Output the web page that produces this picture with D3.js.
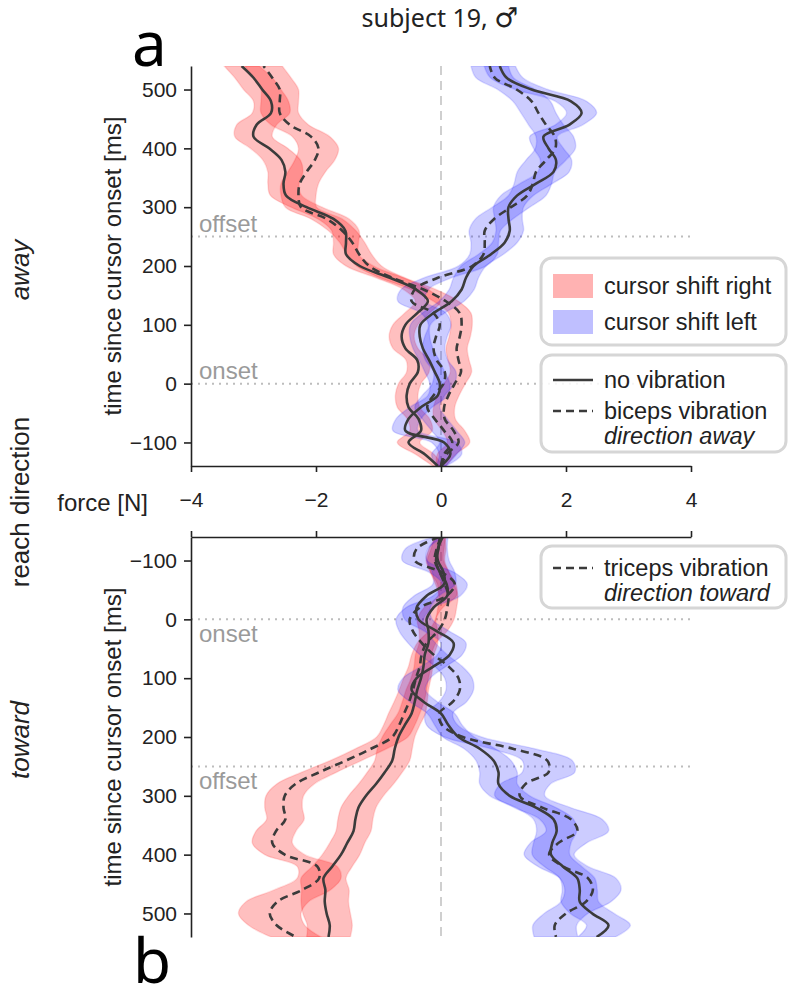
<!DOCTYPE html>
<html>
<head>
<meta charset="utf-8">
<script src="https://cdnjs.cloudflare.com/ajax/libs/d3/7.8.5/d3.min.js"></script>
<style>
  body { margin: 0; background: #fff; }
  svg text { font-family: 'Liberation Sans', Arial, sans-serif; fill: #222; }
</style>
</head>
<body>
<div class="chart"></div>
<script>
// time grid (ms since cursor onset)
const times = [-140,-120,-100,-80,-60,-40,-20,0,20,40,60,80,100,120,140,160,180,200,220,240,260,280,300,320,340,360,380,400,420,440,460,480,500,520,540]
const xTicks = [-4, -2, 0, 2, 4]
const yTicks = [-100, 0, 100, 200, 300, 400, 500]
const eventNames = ['onset', 'offset']
const eventTimes = [0, 250]

// reach direction: away  (force in N)
const awayRightNoVib = [-0.05,-0.26,-0.52,-0.32,-0.36,-0.52,-0.55,-0.50,-0.37,-0.38,-0.57,-0.63,-0.57,-0.38,-0.21,-0.40,-0.82,-1.30,-1.52,-1.52,-1.53,-1.72,-2.15,-2.48,-2.52,-2.49,-2.55,-2.75,-3.00,-2.95,-2.72,-2.72,-2.86,-3.00,-3.19]
const awayRightNoVibSd = [0.08,0.15,0.18,0.18,0.18,0.18,0.18,0.18,0.18,0.18,0.2,0.2,0.2,0.2,0.2,0.2,0.22,0.22,0.2,0.2,0.22,0.25,0.25,0.25,0.25,0.28,0.3,0.3,0.3,0.32,0.3,0.28,0.3,0.3,0.28]
const awayRightVib = [0.0,0.09,0.28,0.20,0.06,0.05,0.12,0.22,0.32,0.28,0.25,0.30,0.33,0.30,0.08,-0.28,-0.78,-1.15,-1.31,-1.42,-1.58,-1.83,-2.24,-2.28,-2.26,-2.15,-2.02,-1.96,-2.08,-2.42,-2.58,-2.58,-2.58,-2.70,-2.84]
const awayRightVibSd = [0.08,0.15,0.18,0.18,0.17,0.17,0.17,0.17,0.17,0.17,0.17,0.17,0.17,0.18,0.2,0.2,0.2,0.2,0.2,0.2,0.22,0.25,0.25,0.28,0.3,0.3,0.32,0.32,0.3,0.3,0.3,0.3,0.3,0.3,0.3]
const awayLeftNoVib = [0.0,0.15,0.05,-0.57,-0.52,-0.32,-0.05,-0.02,-0.10,-0.19,-0.29,-0.34,-0.33,-0.12,0.17,0.33,0.40,0.52,0.80,1.02,1.10,1.08,1.08,1.22,1.52,1.80,1.84,1.72,1.64,2.05,2.25,2.08,1.45,1.05,0.94]
const awayLeftNoVibSd = [0.08,0.18,0.2,0.2,0.2,0.18,0.16,0.16,0.16,0.16,0.16,0.16,0.16,0.18,0.2,0.2,0.2,0.2,0.2,0.2,0.22,0.22,0.24,0.26,0.26,0.25,0.25,0.24,0.22,0.22,0.24,0.25,0.26,0.26,0.25]
const awayLeftVib = [0.0,0.05,0.18,0.05,-0.10,-0.22,-0.12,0.04,0.06,-0.07,-0.12,-0.08,-0.02,-0.12,-0.47,-0.42,-0.05,0.50,0.68,0.70,0.70,0.85,1.12,1.38,1.47,1.52,1.68,1.83,1.82,1.68,1.56,1.45,1.21,0.86,0.78]
const awayLeftVibSd = [0.08,0.2,0.2,0.2,0.2,0.2,0.18,0.18,0.18,0.18,0.18,0.18,0.18,0.2,0.22,0.22,0.22,0.22,0.22,0.22,0.25,0.3,0.3,0.3,0.3,0.3,0.32,0.32,0.3,0.28,0.28,0.3,0.3,0.3,0.3]

// reach direction: toward
const towardRightNoVib = [-0.02,-0.04,-0.08,-0.02,0.09,0.10,-0.12,-0.23,-0.20,-0.20,-0.26,-0.28,-0.32,-0.38,-0.42,-0.47,-0.58,-0.68,-0.74,-0.78,-0.90,-1.04,-1.20,-1.32,-1.37,-1.40,-1.50,-1.60,-1.74,-1.88,-1.85,-1.86,-1.83,-1.78,-1.80]
const towardRightNoVibSd = [0.08,0.12,0.14,0.15,0.15,0.15,0.15,0.15,0.15,0.15,0.15,0.15,0.16,0.18,0.2,0.22,0.24,0.26,0.28,0.28,0.28,0.28,0.28,0.28,0.28,0.28,0.28,0.3,0.32,0.36,0.38,0.38,0.38,0.36,0.35]
const towardRightVib = [0.0,-0.07,-0.10,-0.02,0.06,0.12,0.10,0.06,-0.05,-0.23,-0.31,-0.34,-0.40,-0.45,-0.51,-0.59,-0.67,-0.78,-1.12,-1.52,-1.95,-2.33,-2.50,-2.52,-2.49,-2.64,-2.70,-2.50,-1.98,-1.95,-2.22,-2.62,-2.74,-2.63,-2.32]
const towardRightVibSd = [0.08,0.12,0.14,0.15,0.15,0.15,0.15,0.15,0.15,0.15,0.16,0.18,0.2,0.22,0.24,0.25,0.25,0.25,0.25,0.25,0.28,0.3,0.3,0.3,0.3,0.32,0.32,0.32,0.32,0.35,0.45,0.5,0.5,0.45,0.4]
const towardLeftNoVib = [0.03,-0.05,-0.05,0.04,0.05,-0.23,-0.39,-0.36,-0.07,0.20,0.14,-0.12,-0.39,-0.47,-0.28,0.0,0.12,0.28,0.62,0.84,0.92,0.92,1.10,1.52,1.80,1.85,1.78,1.76,1.95,2.18,2.22,2.22,2.42,2.68,2.49]
const towardLeftNoVibSd = [0.08,0.15,0.18,0.18,0.18,0.2,0.22,0.22,0.2,0.2,0.2,0.2,0.22,0.22,0.22,0.22,0.22,0.25,0.25,0.28,0.3,0.3,0.32,0.32,0.32,0.32,0.3,0.3,0.3,0.28,0.28,0.3,0.35,0.35,0.3]
const towardLeftVib = [-0.03,-0.39,-0.42,0.01,0.22,0.09,-0.34,-0.50,-0.45,-0.31,-0.12,0.12,0.28,0.30,0.19,-0.03,0.02,0.35,1.15,1.70,1.72,1.35,1.26,1.62,2.08,2.18,1.88,1.73,1.95,2.35,2.43,2.32,2.00,1.82,1.84]
const towardLeftVibSd = [0.08,0.18,0.2,0.2,0.2,0.22,0.22,0.22,0.22,0.22,0.22,0.22,0.22,0.22,0.22,0.22,0.25,0.3,0.35,0.4,0.42,0.4,0.4,0.45,0.5,0.5,0.45,0.4,0.4,0.45,0.45,0.4,0.35,0.35,0.35]

const width = 789
const height = 988
const red = '#ff0000'
const blue = '#0000ff'
const lineColor = '#3b3b3b'

let svg = d3.select('.chart')
  .append('svg')
  .attr('width', width)
  .attr('height', height)

let xScale = d3.scaleLinear().domain([-4, 4]).range([191, 691])
let yTop = d3.scaleLinear().domain([-140, 540]).range([466, 66])
let yBot = d3.scaleLinear().domain([-140, 540]).range([537, 937])

const panels = [
  { name: 'away', y: yTop, clip: [66, 466], series: [
    { m: awayRightNoVib, sd: awayRightNoVibSd, c: red, dash: false },
    { m: awayRightVib, sd: awayRightVibSd, c: red, dash: true },
    { m: awayLeftNoVib, sd: awayLeftNoVibSd, c: blue, dash: false },
    { m: awayLeftVib, sd: awayLeftVibSd, c: blue, dash: true }
  ]},
  { name: 'toward', y: yBot, clip: [537, 937], series: [
    { m: towardRightNoVib, sd: towardRightNoVibSd, c: red, dash: false },
    { m: towardRightVib, sd: towardRightVibSd, c: red, dash: true },
    { m: towardLeftNoVib, sd: towardLeftNoVibSd, c: blue, dash: false },
    { m: towardLeftVib, sd: towardLeftVibSd, c: blue, dash: true }
  ]}
]

panels.forEach((p, pi) => {
  let g = svg.append('g')
  let y = p.y

  svg.append('clipPath').attr('id', 'clip' + pi)
    .append('rect')
    .attr('x', 191).attr('y', p.clip[0])
    .attr('width', 500).attr('height', p.clip[1] - p.clip[0])

  // zero force line
  g.append('line')
    .attr('x1', xScale(0)).attr('x2', xScale(0))
    .attr('y1', p.clip[0]).attr('y2', p.clip[1])
    .attr('stroke', '#cfcfcf').attr('stroke-width', 2)
    .attr('stroke-dasharray', '9,6')

  // onset / offset
  eventTimes.forEach((t, i) => {
    g.append('line')
      .attr('x1', 191).attr('x2', 691)
      .attr('y1', y(t)).attr('y2', y(t))
      .attr('stroke', '#bdbdbd').attr('stroke-width', 2)
      .attr('stroke-dasharray', '2,5')
    g.append('text')
      .attr('x', 199)
      .attr('y', pi === 0 ? y(t) - 5 : y(t) + 23)
      .style('font-size', '24px')
      .style('fill', '#9a9a9a')
      .text(eventNames[i])
  })

  let data = p.series
  let plot = g.append('g').attr('clip-path', 'url(#clip' + pi + ')')

  let area = s => d3.area()
    .curve(d3.curveCatmullRom)
    .y((d, i) => y(times[i]))
    .x0((d, i) => xScale(s.m[i] - s.sd[i]))
    .x1((d, i) => xScale(s.m[i] + s.sd[i]))

  data.forEach(s => {
    plot.append('path')
      .datum(times)
      .attr('d', area(s))
      .attr('fill', s.c)
      .attr('fill-opacity', s.c === red ? 0.25 : 0.2)
      .attr('stroke', s.c)
      .attr('stroke-opacity', 0.12)
      .attr('stroke-width', 1.5)
  })

  let line = s => d3.line()
    .curve(d3.curveCatmullRom)
    .y((d, i) => y(times[i]))
    .x((d, i) => xScale(s.m[i]))

  data.forEach(s => {
    plot.append('path')
      .datum(times)
      .attr('d', line(s))
      .attr('fill', 'none')
      .attr('stroke', lineColor)
      .attr('stroke-width', 2.6)
      .attr('stroke-dasharray', s.dash ? '8,5' : null)
  })

  // y axis
  let yAxis = d3.axisLeft(y).tickValues(yTicks).tickSize(7).tickPadding(7).tickSizeOuter(0)
  let ya = g.append('g')
    .attr('transform', 'translate(191,0)')
    .call(yAxis)
  ya.select('.domain').attr('stroke', '#222').attr('stroke-width', 1.6)
  ya.selectAll('.tick line').attr('stroke', '#222').attr('stroke-width', 1.6)
  ya.selectAll('.tick text').style('font-size', '21px').attr('fill', '#222')

  g.append('text')
    .attr('transform', 'translate(121,' + ((p.clip[0] + p.clip[1]) / 2) + ') rotate(-90)')
    .attr('text-anchor', 'middle')
    .style('font-size', '24px')
    .text('time since cursor onset [ms]')

  g.append('text')
    .attr('transform', 'translate(29,' + (pi === 0 ? 270 : 740) + ') rotate(-90)')
    .attr('text-anchor', 'middle')
    .style('font-size', '26px')
    .style('font-style', 'italic')
    .text(p.name)
})

// x axes between the panels
let xAxisTop = d3.axisBottom(xScale).tickValues(xTicks).tickSize(6).tickPadding(20).tickSizeOuter(0)
let xa = svg.append('g').attr('transform', 'translate(0,466)').call(xAxisTop)
xa.selectAll('.tick text').style('font-size', '21px').attr('fill', '#222')
let xAxisBot = d3.axisTop(xScale).tickValues(xTicks).tickSize(6).tickFormat('').tickSizeOuter(0)
let xb = svg.append('g').attr('transform', 'translate(0,537)').call(xAxisBot)
;[xa, xb].forEach(a => {
  a.select('.domain').attr('stroke', '#222').attr('stroke-width', 1.6)
  a.selectAll('.tick line').attr('stroke', '#222').attr('stroke-width', 1.6)
})

svg.append('text')
  .attr('x', 148).attr('y', 511)
  .attr('text-anchor', 'end')
  .style('font-size', '24px')
  .text('force [N]')

svg.append('text')
  .attr('transform', 'translate(29,502) rotate(-90)')
  .attr('text-anchor', 'middle')
  .style('font-size', '26px')
  .text('reach direction')

// title and panel letters
let title = svg.append('text')
  .attr('x', 440).attr('y', 27)
  .attr('text-anchor', 'middle')
  .style('font-family', "'Noto Sans', sans-serif")
  .style('font-size', '25px')
title.append('tspan').text('subject 19, ')
title.append('tspan')
  .style('font-family', "'DejaVu Sans', sans-serif")
  .style('font-size', '27px')
  .text('\u2642')

svg.append('text')
  .attr('x', 132).attr('y', 66)
  .style('font-family', "'Noto Sans', sans-serif")
  .style('font-size', '62px')
  .style('fill', '#000')
  .text('a')

svg.append('text')
  .attr('x', 133).attr('y', 983)
  .style('font-family', "'Noto Sans', sans-serif")
  .style('font-size', '62px')
  .style('fill', '#000')
  .text('b')

// legends
let legendBox = (x, y, w, h) => svg.append('rect')
  .attr('x', x).attr('y', y).attr('width', w).attr('height', h)
  .attr('rx', 11)
  .attr('fill', '#fff').attr('fill-opacity', 0.85)
  .attr('stroke', '#d6d6d6').attr('stroke-width', 3)

legendBox(541, 258, 245, 87)
const colorLabels = ['cursor shift right', 'cursor shift left']
const colorKeys = [red, blue]
colorLabels.forEach((label, i) => {
  let cy = 286 + i * 36
  svg.append('rect')
    .attr('x', 553).attr('y', cy - 12).attr('width', 40).attr('height', 24)
    .attr('fill', colorKeys[i]).attr('fill-opacity', colorKeys[i] === red ? 0.3 : 0.25)
  svg.append('text').attr('x', 604).attr('y', cy + 8)
    .style('font-size', '23.5px').text(label)
})

let styleLegend = (y0, h, rows) => {
  legendBox(541, y0, 245, h)
  rows.forEach(r => {
    svg.append('line')
      .attr('x1', 553).attr('x2', 593)
      .attr('y1', r.y).attr('y2', r.y)
      .attr('stroke', lineColor).attr('stroke-width', 2.6)
      .attr('stroke-dasharray', r.dash ? '8,5' : null)
    r.text.forEach((t, i) => {
      svg.append('text').attr('x', 604).attr('y', r.y + 8 + i * 25)
        .style('font-size', '23.5px')
        .style('font-style', i === 1 ? 'italic' : 'normal')
        .text(t)
    })
  })
}

styleLegend(355, 97, [
  { y: 380, dash: false, text: ['no vibration'] },
  { y: 411, dash: true, text: ['biceps vibration', 'direction away'] }
])
styleLegend(546, 62, [
  { y: 568, dash: true, text: ['triceps vibration', 'direction toward'] }
])
</script>
</body>
</html>
